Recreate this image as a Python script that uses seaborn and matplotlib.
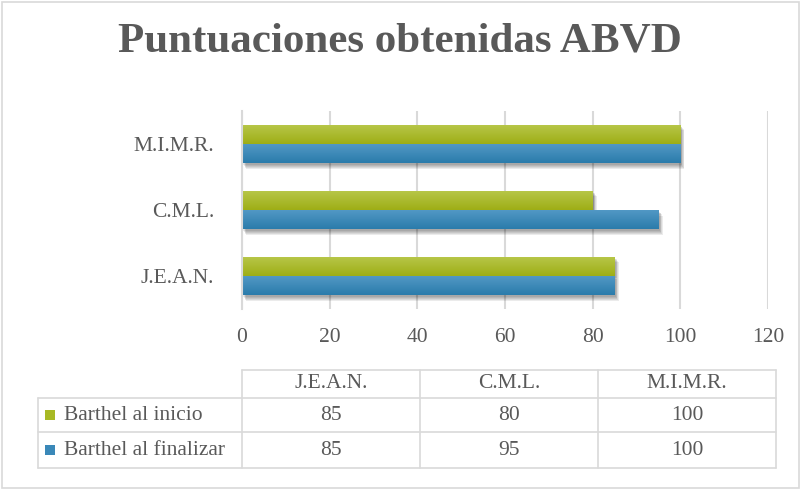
import numpy as np
import pandas as pd
import matplotlib
matplotlib.use("Agg")
import matplotlib.pyplot as plt
import seaborn as sns
from matplotlib.patches import Rectangle
from matplotlib.lines import Line2D
from matplotlib.colors import LinearSegmentedColormap
import matplotlib.patheffects as pe

title = "Puntuaciones obtenidas ABVD"
categories = ["J.E.A.N.", "C.M.L.", "M.I.M.R."]
series_names = ["Barthel al inicio", "Barthel al finalizar"]
inicio = [85, 80, 100]
finalizar = [85, 95, 100]
xticks = [0, 20, 40, 60, 80, 100, 120]

sns.set_theme(style="white")
plt.rcParams['font.family'] = ['Liberation Serif', 'DejaVu Serif']
TXT = "#595959"
GRID = "#d9d9d9"
FS = 15.5

rows = []
for c, a, b in zip(categories, inicio, finalizar):
    rows.append({"cat": c, "serie": series_names[0], "val": a})
    rows.append({"cat": c, "serie": series_names[1], "val": b})
df = pd.DataFrame(rows)

W, H = 800, 490
fig = plt.figure(figsize=(8, 4.9), dpi=100)
fig.patch.set_facecolor("white")

def fx(x): return x / W
def fy(y): return 1 - y / H

ax = fig.add_axes([fx(242), fy(309), fx(768) - fx(242), (309 - 111) / H])
order = categories[::-1]
base_cols = {"Barthel al inicio": "#a8b924", "Barthel al finalizar": "#3a88b8"}
sns.barplot(data=df, y="cat", x="val", hue="serie", order=order,
            hue_order=series_names, palette=base_cols, orient="h",
            width=0.58, ax=ax, legend=False, saturation=1)

ax.set_xlim(0, 120)
ax.set_xticks(xticks)
ax.set_xticklabels([str(t) for t in xticks], fontsize=FS, color=TXT)
ax.tick_params(axis="x", length=0, pad=14)
ax.tick_params(axis="y", length=0, pad=20)
for lab in ax.get_yticklabels():
    lab.set_fontsize(FS)
    lab.set_color(TXT)
ax.set_xlabel("")
ax.set_ylabel("")
ax.grid(axis="x", color=GRID, linewidth=1.5)
ax.set_axisbelow(True)
for s in ["top", "right", "bottom"]:
    ax.spines[s].set_visible(False)
ax.spines["left"].set_color(GRID)
ax.spines["left"].set_linewidth(1.5)

grads = {
    "#a8b924": ("#b8c74a", "#9eae16"),
    "#3a88b8": ("#5399c6", "#2b7cab"),
}
patches = list(ax.patches)
for p in patches:
    fc = matplotlib.colors.to_hex(p.get_facecolor())
    top, bot = grads.get(fc, (fc, fc))
    cmap = LinearSegmentedColormap.from_list("g", [top, bot])
    x0, y0 = p.get_x(), p.get_y()
    w, h = p.get_width(), p.get_height()
    p.set_edgecolor("none")
    shadows = [pe.SimplePatchShadow(offset=(dx, -dy), shadow_rgbFace="#000000", alpha=0.08)
               for dx, dy in [(3, 4), (2.5, 3.2), (2, 2.5), (1.5, 1.8), (1, 1.2)]]
    p.set_path_effects(shadows + [pe.Normal()])
    grad = np.linspace(0, 1, 64).reshape(-1, 1)
    im = ax.imshow(grad, cmap=cmap, aspect="auto",
                   extent=(x0, x0 + w, y0 + h, y0), origin="upper", zorder=p.get_zorder() + 0.1)
    im.set_clip_path(p)
ax.set_ylim(2.5, -0.5)
ax.set_xlim(0, 120)

fig.text(0.5, fy(42), title, ha="center", va="center", fontsize=31,
         fontweight="bold", color=TXT)

# data table
col_x = [242, 420, 598, 776]
row_y = [370, 398, 432, 468]
left_x = 38
lw = 1.2
def hline(y, x0, x1):
    fig.add_artist(Line2D([fx(x0), fx(x1)], [fy(y), fy(y)], color=GRID, lw=lw))
def vline(x, y0, y1):
    fig.add_artist(Line2D([fx(x), fx(x)], [fy(y0), fy(y1)], color=GRID, lw=lw))
hline(row_y[0], col_x[0], col_x[-1])
for y in row_y[1:]:
    hline(y, left_x, col_x[-1])
for x in col_x:
    vline(x, row_y[0], row_y[-1])
vline(left_x, row_y[1], row_y[-1])

for i, c in enumerate(categories):
    cx = (col_x[i] + col_x[i + 1]) / 2
    fig.text(fx(cx), fy((row_y[0] + row_y[1]) / 2), c, ha="center", va="center",
             fontsize=FS, color=TXT)
legend_cols = ["#a8b924", "#3a88b8"]
for r, (name, vals) in enumerate(zip(series_names, [inicio, finalizar])):
    yc = (row_y[r + 1] + row_y[r + 2]) / 2
    fig.add_artist(Rectangle((fx(45), fy(yc + 5)), 10 / W, 10 / H,
                             facecolor=legend_cols[r], edgecolor="none"))
    fig.text(fx(64), fy(yc), name, ha="left", va="center", fontsize=FS, color=TXT)
    for i, v in enumerate(vals):
        cx = (col_x[i] + col_x[i + 1]) / 2
        fig.text(fx(cx), fy(yc), str(v), ha="center", va="center",
                 fontsize=FS, color=TXT)

fig.add_artist(Rectangle((fx(1.5), fy(488)), (W - 3) / W, (487 - 1.5) / H,
                         facecolor="none", edgecolor=GRID, lw=1.2))

fig.savefig("out.png", dpi=100)
